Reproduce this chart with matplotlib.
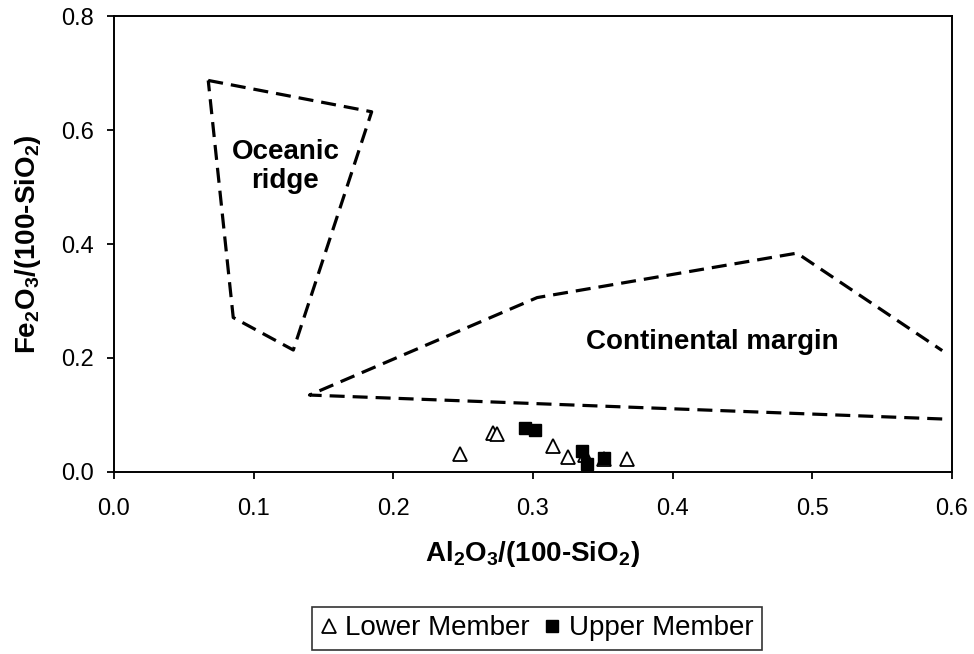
import matplotlib
matplotlib.use('Agg')
import matplotlib.pyplot as plt

plt.rcParams['font.family'] = ['Liberation Sans', 'DejaVu Sans']
plt.rcParams['mathtext.default'] = 'regular'

# field boundaries (Al2O3/(100-SiO2), Fe2O3/(100-SiO2))
ridge_x = [0.0675, 0.1845, 0.1284, 0.0854, 0.0675]
ridge_y = [0.687, 0.632, 0.214, 0.271, 0.687]
margin_x = [0.593, 0.140, 0.303, 0.489, 0.593]
margin_y = [0.093, 0.135, 0.306, 0.384, 0.213]

# samples
lower_x = [0.2477, 0.2716, 0.2744, 0.3141, 0.3248, 0.3370, 0.3510, 0.3670]
lower_y = [0.032, 0.069, 0.066, 0.046, 0.026, 0.030, 0.022, 0.022]
upper_x = [0.2943, 0.3014, 0.3349, 0.3384, 0.3508]
upper_y = [0.078, 0.073, 0.037, 0.0135, 0.025]

xticks = [0.0, 0.1, 0.2, 0.3, 0.4, 0.5, 0.6]
yticks = [0.0, 0.2, 0.4, 0.6, 0.8]

fig = plt.figure(figsize=(9.74, 6.54), dpi=100)
ax = fig.add_axes([0.117, 0.2783, 0.8604, 0.6972])

dash = (0, (4.7, 2.5))
ax.plot(ridge_x, ridge_y, color='black', lw=2.3, ls=dash)
ax.plot(margin_x, margin_y, color='black', lw=2.3, ls=dash)

ax.plot(lower_x, lower_y, ls='none', marker='^', ms=10, mfc='white',
        mec='black', mew=1.3, label='Lower Member')
ax.plot(upper_x, upper_y, ls='none', marker='s', ms=8.5, mfc='black',
        mec='black', label='Upper Member')

ax.text(0.1228, 0.5365, 'Oceanic\nridge', ha='center', va='center',
        fontsize=20, fontweight='bold', linespacing=1.15)
ax.text(0.4286, 0.2277, 'Continental margin', ha='center', va='center',
        fontsize=20, fontweight='bold')

ax.set_xlim(0, 0.6)
ax.set_ylim(0, 0.8)
ax.set_xticks(xticks)
ax.set_yticks(yticks)
ax.set_xticklabels(['%.1f' % v for v in xticks])
ax.set_yticklabels(['%.1f' % v for v in yticks])
ax.tick_params(labelsize=17, direction='out', length=5, width=1.3)
ax.tick_params(axis='x', pad=13.5)
ax.tick_params(axis='y', pad=9.5)
for sp in ax.spines.values():
    sp.set_linewidth(1.4)

ax.set_xlabel('Al$_2$O$_3$/(100-SiO$_2$)', fontsize=20, fontweight='bold', labelpad=14)
ax.set_ylabel('Fe$_2$O$_3$/(100-SiO$_2$)', fontsize=20, fontweight='bold', labelpad=13)

leg = fig.legend(loc='upper center', bbox_to_anchor=(0.5513, 0.0719), ncol=2,
                 fontsize=20, frameon=True, fancybox=False, handlelength=0.6,
                 handletextpad=0.3, columnspacing=0.5, borderpad=0.3,
                 borderaxespad=0)
leg.get_frame().set_edgecolor('black')
leg.get_frame().set_linewidth(1.2)

fig.savefig('out.png', dpi=100)
